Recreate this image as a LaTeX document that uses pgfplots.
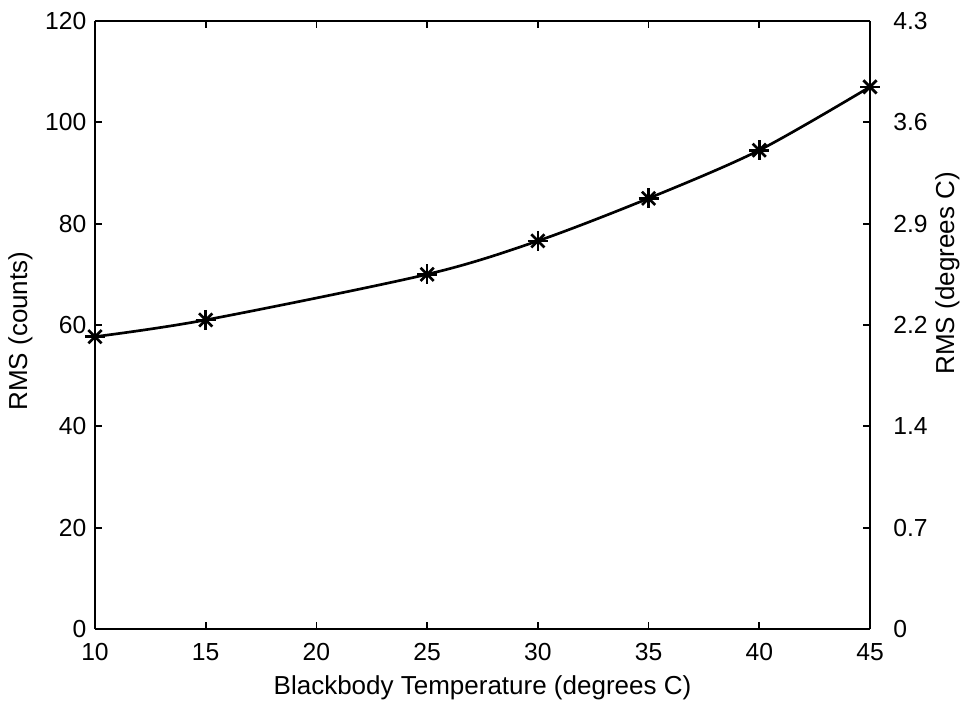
\documentclass[border=0pt]{standalone}
\usepackage{pgfplots}
\pgfplotsset{compat=1.18}
\usepackage{fontspec}
\setmainfont{Liberation Sans}
\newcommand{\tfont}{\fontsize{18.5}{20}\selectfont}
\newcommand{\lfont}{\fontsize{19.5}{22}\selectfont}
\begin{document}
\begin{tikzpicture}
\useasboundingbox (0pt,0pt) rectangle (723pt,-525pt);
\begin{axis}[
  at={(71.25pt,-471.75pt)}, anchor=south west,
  scale only axis, width=581.25pt, height=456pt,
  xmin=10, xmax=45, ymin=0, ymax=120,
  xtick={10,15,...,45}, ytick={0,20,...,120},
  tick align=inside, axis line style={line width=1.6pt}, tick style={line width=1.3pt, black},
  major tick length=5.5pt,
  axis y line*=left, axis x line*=box,
  xlabel={Blackbody Temperature (degrees C)}, ylabel={RMS (counts)},
  xlabel style={at={(axis description cs:0.5,0)}, anchor=center, yshift=-44pt},
  ylabel style={at={(axis description cs:0,0.49)}, anchor=center, yshift=56pt},
  /pgf/number format/assume math mode=true,
  tick label style={font=\tfont},
  label style={font=\lfont},
  xticklabel style={yshift=-7pt},
  yticklabel style={xshift=-3pt},
]
\addplot[black, line width=2pt, smooth, mark=+, mark size=7.5pt, mark options={line width=2pt}] coordinates {
(10,57.7) (15,61.0) (25,70.0) (30,76.6) (35,85.0) (40,94.5) (45,107.0)};
\addplot[black, only marks, mark=x, mark size=7pt, mark options={line width=2pt}] coordinates {
(10,57.7) (15,61.0) (25,70.0) (30,76.6) (35,85.0) (40,94.5) (45,107.0)};
\end{axis}
\begin{axis}[
  at={(71.25pt,-471.75pt)}, anchor=south west,
  scale only axis, width=581.25pt, height=456pt,
  xmin=10, xmax=45, ymin=0, ymax=4.3,
  axis x line=none, axis y line*=right,
  ytick={0,0.71667,1.43333,2.15,2.86667,3.58333,4.3},
  yticklabels={0,0.7,1.4,2.2,2.9,3.6,4.3},
  tick align=inside, axis line style={line width=1.6pt}, tick style={line width=1.3pt, black},
  major tick length=5.5pt,
  ylabel={RMS (degrees C)},
  tick label style={font=\tfont},
  label style={font=\lfont},
  yticklabel style={xshift=14pt},
  ylabel style={at={(axis description cs:1,0.585)}, anchor=center, yshift=-58pt},
]
\end{axis}
\end{tikzpicture}
\end{document}
